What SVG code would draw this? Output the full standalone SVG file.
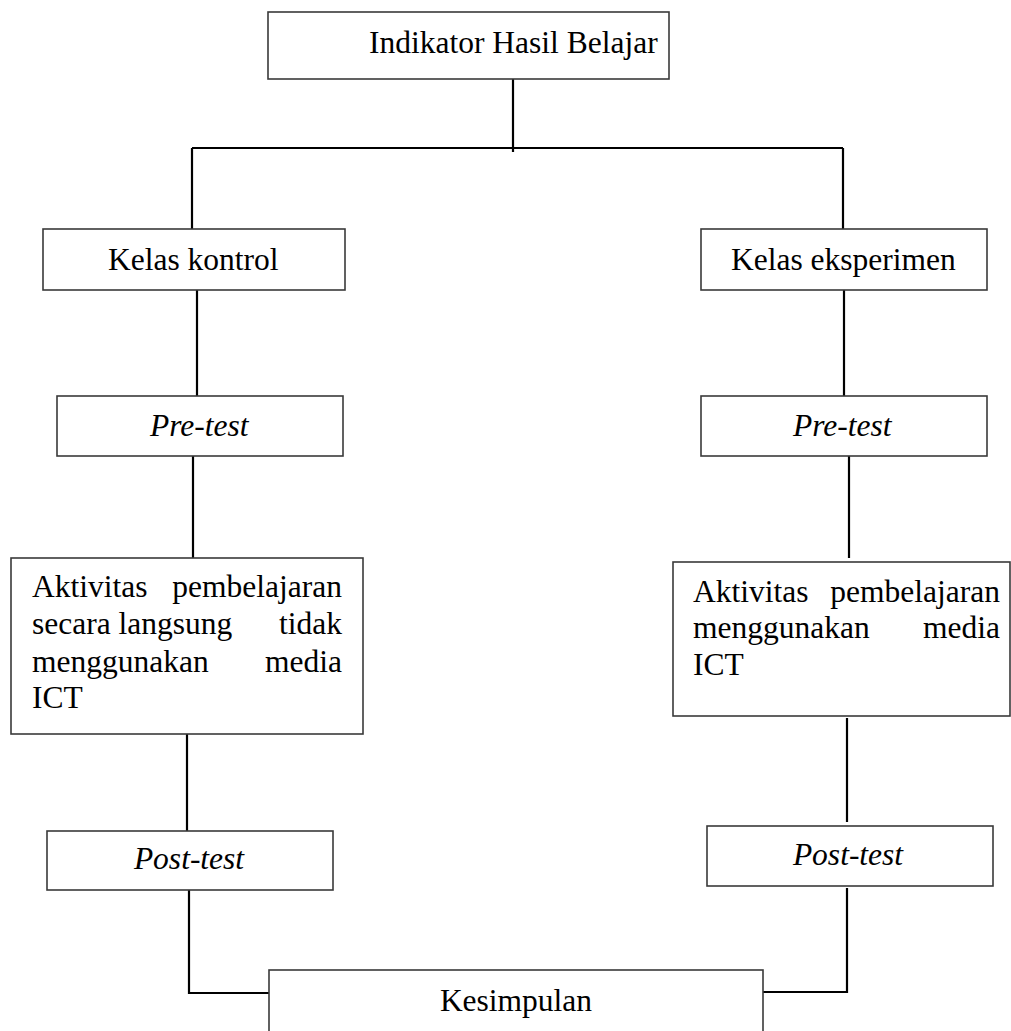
<svg xmlns="http://www.w3.org/2000/svg" width="1011" height="1031" viewBox="0 0 1011 1031">
<style>
.box{fill:#fff;stroke:#3a3a3a;stroke-width:1.6}
.con{fill:none;stroke:#000;stroke-width:2.2}
text{font-family:"Liberation Serif","Times New Roman",serif;font-size:31.5px;fill:#000}
.it{font-style:italic}
.e{text-anchor:end}
.m{text-anchor:middle}
</style>
<rect width="1011" height="1031" fill="#fff"/>
<g id="connectors">
<path class="con" d="M513,79V152"/>
<path class="con" d="M192,148H843"/>
<path class="con" d="M192,148V229"/>
<path class="con" d="M843,148V229"/>
<path class="con" d="M197,290V396"/>
<path class="con" d="M844,290V396"/>
<path class="con" d="M193,456V558"/>
<path class="con" d="M849,456V558"/>
<path class="con" d="M187,734V831"/>
<path class="con" d="M847,718V822"/>
<path class="con" d="M189,890V993H272"/>
<path class="con" d="M847,888V992H759"/>
</g>
<g id="n-indikator">
<rect class="box" x="268" y="12" width="401" height="67"/>
<text x="369" y="53">Indikator Hasil Belajar</text>
</g>
<g id="n-kontrol">
<rect class="box" x="43" y="229" width="302" height="61"/>
<text x="108" y="270">Kelas kontrol</text>
</g>
<g id="n-eksperimen">
<rect class="box" x="701" y="229" width="286" height="61"/>
<text x="731" y="270">Kelas eksperimen</text>
</g>
<g id="n-pretest-l">
<rect class="box" x="57" y="396" width="286" height="60"/>
<text class="it" x="150" y="436">Pre-test</text>
</g>
<g id="n-pretest-r">
<rect class="box" x="701" y="396" width="286" height="60"/>
<text class="it" x="793" y="436">Pre-test</text>
</g>
<g id="n-aktivitas-l">
<rect class="box" x="11" y="558" width="352" height="176"/>
<text x="32" y="597">Aktivitas</text>
<text class="e" x="342" y="597">pembelajaran</text>
<text x="32" y="634">secara langsung</text>
<text class="e" x="342" y="634">tidak</text>
<text x="32" y="672">menggunakan</text>
<text class="e" x="342" y="672">media</text>
<text x="32" y="708">ICT</text>
</g>
<g id="n-aktivitas-r">
<rect class="box" x="673" y="562" width="337" height="154"/>
<text x="693" y="602">Aktivitas</text>
<text class="e" x="1000" y="602">pembelajaran</text>
<text x="693" y="638">menggunakan</text>
<text class="e" x="1000" y="638">media</text>
<text x="693" y="675">ICT</text>
</g>
<g id="n-posttest-l">
<rect class="box" x="47" y="831" width="286" height="59"/>
<text class="it m" x="189" y="869">Post-test</text>
</g>
<g id="n-posttest-r">
<rect class="box" x="707" y="826" width="286" height="60"/>
<text class="it m" x="848" y="865">Post-test</text>
</g>
<g id="n-kesimpulan">
<rect class="box" x="269" y="970" width="494" height="80"/>
<text class="m" x="516" y="1011">Kesimpulan</text>
</g>
</svg>
